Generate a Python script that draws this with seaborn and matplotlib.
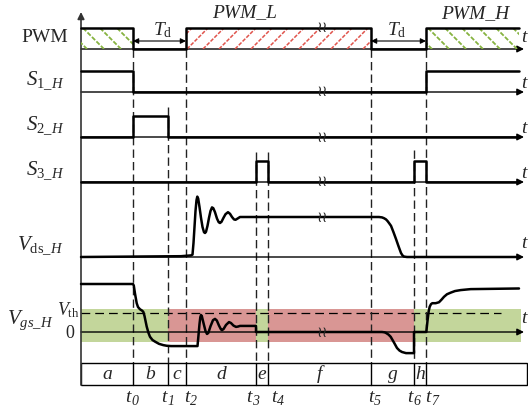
import matplotlib
matplotlib.use("Agg")
import matplotlib.pyplot as plt
from matplotlib.patches import Rectangle
import pandas as pd
import seaborn as sns

sns.set_theme(style="white")
plt.rcParams["font.family"] = ["Liberation Serif", "DejaVu Serif"]
plt.rcParams["mathtext.fontset"] = "custom"
plt.rcParams["mathtext.rm"] = "Liberation Serif"
plt.rcParams["mathtext.it"] = "Liberation Serif:italic"
plt.rcParams["mathtext.bf"] = "Liberation Serif:bold"

# ---------------- data ----------------
# switching instants t0..t7 (time units)
event_subscripts = ["0", "1", "2", "3", "4", "5", "6", "7"]
event_times = [52, 87, 105, 175, 187, 290, 333, 345]
t_end = 438
t_axis_end = 443
t_break = 241

# switching intervals
segment_labels = ["a", "b", "c", "d", "e", "f", "g", "h", ""]
segment_bounds = [0, 52, 87, 105, 175, 187, 290, 333, 345, 446]

# PWM command
pwm_time = [0, 52, 52, 105, 105, 290, 290, 345, 345, 438]
pwm_level = [1, 1, 0, 0, 1, 1, 0, 0, 1, 1]
pwm_windows = [(0, 52, "H"), (105, 290, "L"), (345, 438, "H")]

# switching states of the three high-side devices
s1_time = [0, 52, 52, 345, 345, 438]
s1_level = [1, 1, 0, 0, 1, 1]
s2_time = [0, 52, 52, 87, 87, 438]
s2_level = [0, 0, 1, 1, 0, 0]
s3_time = [0, 175, 175, 187, 187, 333, 333, 345, 345, 438]
s3_level = [0, 0, 1, 1, 0, 0, 1, 1, 0, 0]

# drain-source voltage (normalised to the blocking level)
vds_time = [0, 100, 110, 111.5, 112.5, 113.5, 114.5, 115.5, 116.3, 117.2, 118.5, 120,
            121.5, 123, 124, 125, 126.5, 128, 129.5, 131, 132.3, 134, 136, 137.7, 139,
            140.5, 142.5, 144.5, 147, 149, 151, 153, 154.5, 156.5, 159,
            290, 298, 301, 303, 305, 306.5, 308, 310, 312.5, 315, 317.5, 320, 321.5,
            323, 326, 438]
vds_value = [0.0, 0.02, 0.04, 0.06, 0.35, 0.75, 1.15, 1.42, 1.51, 1.46, 1.25, 0.98,
             0.75, 0.62, 0.60, 0.63, 0.78, 0.98, 1.15, 1.24, 1.22, 1.12, 0.96, 0.87, 0.85,
             0.88, 0.98, 1.07, 1.12, 1.08, 1.0, 0.94, 0.93, 0.96, 1.0,
             1.0, 1.0, 0.99, 0.97, 0.94, 0.90, 0.85, 0.78, 0.62, 0.45, 0.27, 0.10, 0.04,
             0.01, 0.0, 0.0]

# gate-source voltage (V)
vgs_time = [0, 52, 52.8, 54, 55.7, 57, 59, 61, 62.3, 63.5, 65.7, 67.5, 69, 71.5, 74, 78,
            82.3, 85.7, 90, 116.5,
            117.5, 118.5, 119.3, 120, 120.8, 122.5, 124.5, 126, 127.3, 129.5, 132, 134,
            135.8, 138, 140, 141, 142.5, 145, 148, 150, 152.5, 155, 157, 159, 175, 175,
            301, 303.5, 305, 307.5, 309.7, 313, 316, 318.5, 321, 325, 333, 333,
            345.3, 346.5, 347.7, 348.7, 350, 351.3, 354.7, 358, 360.5, 363, 366, 369.7,
            374, 379.7, 389.7, 438]
vgs_value = [15.0, 15.0, 14.5, 12.0, 9.0, 7.8, 7.1, 6.7, 6.3, 5.0, 1.7, -0.3, -1.5, -2.5,
             -3.0, -3.7, -4.1, -4.3, -4.4, -4.4,
             -1.0, 2.5, 4.6, 5.3, 5.0, 2.8, 0.3, -0.6, -0.3, 1.8, 3.7, 4.1,
             3.6, 2.0, 0.8, 0.6, 0.9, 2.2, 3.1, 2.8, 2.0, 1.6, 1.7, 1.9, 1.9, 0.0,
             0.0, -0.1, -0.3, -0.8, -1.5, -3.3, -5.0, -5.8, -6.25, -6.6, -6.6, 0.0,
             0.0, 3.5, 6.5, 7.9, 8.7, 9.0, 9.0, 9.3, 10.1, 11.0, 11.8, 12.3,
             12.8, 13.1, 13.4, 13.6]
vgs_th = 5.9
band_top, band_bottom = 7.2, -3.1
band_bounds = [0, 87, 175, 187, 333, 440]
band_states = ["off", "on", "off", "on", "off"]

# ---------------- layout ----------------
W, H = 528, 411
X0 = 81                      # pixel column of the vertical axis
GREEN_BAND = "#C3D69B"
RED_BAND = "#D99694"
GREEN_HATCH = "#86B340"
RED_HATCH = "#E0544C"
SIG_LW = 1.8

fig = plt.figure(figsize=(W / 100, H / 100), dpi=100)
fig.patch.set_facecolor("white")


def lane_axes(base_px, gain, z):
    a = fig.add_axes([0, 0, 1, 1], zorder=z)
    a.set_xlim(-X0, W - X0)
    a.set_ylim((base_px - H) / gain, base_px / gain)
    a.axis("off")
    a.patch.set_alpha(0)
    return a


def trace(a, t, v):
    df = pd.DataFrame({"time": t, "value": v})
    sns.lineplot(data=df, x="time", y="value", ax=a, color="black",
                 linewidth=SIG_LW, sort=False, estimator=None, legend=False)
    a.axis("off")


# band layer (under everything)
band_ax = lane_axes(332, 3.2, 0)
for (x0, x1), st in zip(zip(band_bounds[:-1], band_bounds[1:]), band_states):
    band_ax.fill_between([x0, x1], band_bottom, band_top,
                         color=GREEN_BAND if st == "off" else RED_BAND, lw=0)
band_ax.plot([0, 420], [vgs_th, vgs_th], color="black", lw=0.9, ls=(0, (7, 4)))

# frame layer in pixel rows
frame = fig.add_axes([0, 0, 1, 1], zorder=1)
frame.set_xlim(-X0, W - X0)
frame.set_ylim(H, 0)
frame.axis("off")
frame.patch.set_alpha(0)

# time axes of every row
row_base_px = [49, 92, 137, 182, 257, 332]
row_t_px = [37, 83, 128, 173, 243, 318]
for yb, yt in zip(row_base_px, row_t_px):
    frame.annotate("", xy=(t_axis_end, yb), xytext=(0, yb),
                   arrowprops=dict(arrowstyle="-|>", color="black", lw=1.0,
                                   mutation_scale=10, shrinkA=0, shrinkB=0))
    frame.text(W - X0 - 1, yt, "t", style="italic", fontsize=14,
               ha="right", va="center")

# vertical axis
frame.annotate("", xy=(0, 12), xytext=(0, 385),
               arrowprops=dict(arrowstyle="-|>", color="#333333", lw=1.2,
                               mutation_scale=10, shrinkA=0, shrinkB=0))

# dashed event markers
event_top_px = [49, 107, 49, 152, 152, 49, 150, 49]
for t, ytop in zip(event_times, event_top_px):
    frame.plot([t, t], [ytop, 363], color="#222222", lw=1.0, ls=(0, (6, 3)))

# interval strip
frame.add_patch(Rectangle((0, 363), segment_bounds[-1], 22, fill=False,
                          edgecolor="black", lw=1.0))
for b in segment_bounds[1:-1]:
    frame.plot([b, b], [363, 385], color="black", lw=1.0)
for lab, x0, x1 in zip(segment_labels, segment_bounds[:-1], segment_bounds[1:]):
    frame.text((x0 + x1) / 2, 374, lab, style="italic", fontsize=14,
               ha="center", va="center")

# event names: italic t with italic subscript
event_label_dx = [-1, 0, 5, -3, 10, 4, 0, 6]
for sub, t, dx in zip(event_subscripts, event_times, event_label_dx):
    frame.text(t + dx - 1, 397, "t", style="italic", fontsize=14,
               ha="right", va="center")
    frame.text(t + dx - 1, 401, sub, style="italic", fontsize=10,
               ha="left", va="center")

# row names
frame.text(45 - X0, 38, "PWM", fontsize=14, ha="center", va="center")
frame.text(45 - X0, 81, r"$S_{\mathrm{1}\_H}$", fontsize=15, ha="center", va="center")
frame.text(45 - X0, 126, r"$S_{\mathrm{2}\_H}$", fontsize=15, ha="center", va="center")
frame.text(45 - X0, 171, r"$S_{\mathrm{3}\_H}$", fontsize=15, ha="center", va="center")
frame.text(40 - X0, 246, r"$V_{\mathrm{ds}\_H}$", fontsize=15, ha="center", va="center")
frame.text(30 - X0, 320, r"$V_{gs\_H}$", fontsize=15, ha="center", va="center")
frame.text(68 - X0, 310, r"$V_{\mathrm{th}}$", fontsize=13, ha="center", va="center")
frame.text(70 - X0, 333, "0", fontsize=13, ha="center", va="center")

# dead-time marks
for (ta, tb), xc in zip([(52, 105), (290, 345)], [163 - X0, 397 - X0]):
    frame.annotate("", xy=(tb, 41), xytext=(ta, 41),
                   arrowprops=dict(arrowstyle="<|-|>", color="black", lw=0.8,
                                   mutation_scale=8, shrinkA=0, shrinkB=0))
    frame.text(xc, 30, r"$T_{\mathrm{d}}$", fontsize=14, ha="center", va="center")
frame.text(245 - X0, 13, "PWM_L", style="italic", fontsize=14, ha="center", va="center")
frame.text(475 - X0, 14, "PWM_H", style="italic", fontsize=14, ha="center", va="center")

# ---------------- signal rows ----------------
pwm_ax = lane_axes(49, 21, 2)
for x0, x1, kind in pwm_windows:
    clip = Rectangle((x0, 0), x1 - x0, 1, transform=pwm_ax.transData,
                     fill=False, lw=0)
    pwm_ax.add_patch(clip)
    step = 17 if kind == "H" else 16
    x = x0 - 21 + 6
    while x < x1 + 21:
        if kind == "H":
            ln, = pwm_ax.plot([x, x + 21], [1, 0], color=GREEN_HATCH, lw=1.3,
                              ls=(0, (2.5, 1.0)))
        else:
            ln, = pwm_ax.plot([x, x + 21], [0, 1], color=RED_HATCH, lw=1.1,
                              ls=(0, (2.5, 1.0)))
        ln.set_clip_path(clip)
        x += step
trace(pwm_ax, pwm_time, pwm_level)

s1_ax = lane_axes(92, 21, 2)
trace(s1_ax, s1_time, s1_level)
s2_ax = lane_axes(137, 21, 2)
trace(s2_ax, s2_time, s2_level)
s3_ax = lane_axes(182, 21, 2)
trace(s3_ax, s3_time, s3_level)
vds_ax = lane_axes(257, 40, 2)
trace(vds_ax, vds_time, vds_value)
vgs_ax = lane_axes(332, 3.2, 2)
trace(vgs_ax, vgs_time, vgs_value)

# axis breaks
for a, lvl in [(pwm_ax, 1), (s1_ax, 0), (s2_ax, 0), (s3_ax, 0), (vds_ax, 1), (vgs_ax, 0)]:
    a.text(t_break, lvl, "\u2240\u2240", fontsize=11, family="DejaVu Sans",
           ha="center", va="center")

fig.savefig("out.png", dpi=100)
